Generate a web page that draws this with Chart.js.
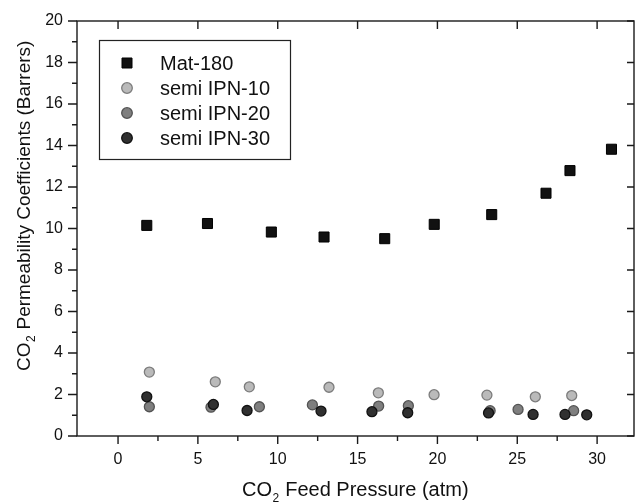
<!DOCTYPE html>
<html><head><meta charset="utf-8">
<script src="https://cdn.jsdelivr.net/npm/chart.js@4.4.0/dist/chart.umd.min.js"></script>
<style>html,body{margin:0;padding:0;background:#fff;}canvas{display:block;}</style>
</head><body>
<canvas id="c" width="635" height="502"></canvas>
<script>
// ---- data ----
const seriesNames = ['Mat-180', 'semi IPN-10', 'semi IPN-20', 'semi IPN-30'];
const mat180X = [1.8, 5.6, 9.6, 12.9, 16.7, 19.8, 23.4, 26.8, 28.3, 30.9];
const mat180Y = [10.15, 10.24, 9.83, 9.59, 9.51, 10.2, 10.67, 11.70, 12.79, 13.82];
const ipn10X = [1.96, 6.09, 8.22, 13.21, 16.3, 19.79, 23.1, 26.13, 28.41];
const ipn10Y = [3.08, 2.61, 2.37, 2.35, 2.08, 1.99, 1.97, 1.89, 1.95];
const ipn20X = [1.96, 5.82, 8.85, 12.17, 16.32, 18.18, 23.3, 25.05, 28.53];
const ipn20Y = [1.41, 1.39, 1.41, 1.50, 1.44, 1.46, 1.22, 1.28, 1.22];
const ipn30X = [1.80, 5.97, 8.08, 12.71, 15.9, 18.14, 23.2, 25.99, 27.99, 29.35];
const ipn30Y = [1.89, 1.52, 1.23, 1.20, 1.17, 1.12, 1.11, 1.04, 1.04, 1.02];
const xTickValues = [0, 5, 10, 15, 20, 25, 30];
const xMinorValues = [2.5, 7.5, 12.5, 17.5, 22.5, 27.5];
const yTickValues = [0, 2, 4, 6, 8, 10, 12, 14, 16, 18, 20];
const yMinorValues = [1, 3, 5, 7, 9, 11, 13, 15, 17, 19];
const xTitleParts = ['CO', '2', ' Feed Pressure (atm)'];
const yTitleParts = ['CO', '2', ' Permeability Coefficients (Barrers)'];

const FONT = '"Liberation Sans", Arial, Helvetica, sans-serif';
function pts(xs, ys) { return xs.map((x, i) => ({ x: x, y: ys[i] })); }

const styles = [
  { pointStyle: 'rect', pointRadius: 7.1, backgroundColor: '#111111', borderColor: '#000000', borderWidth: 1, order: 0 },
  { pointStyle: 'circle', pointRadius: 5, backgroundColor: '#bababa', borderColor: '#7c7c7c', borderWidth: 1.3, order: 3 },
  { pointStyle: 'circle', pointRadius: 5, backgroundColor: '#7f7f7f', borderColor: '#535353', borderWidth: 1.3, order: 2 },
  { pointStyle: 'circle', pointRadius: 5, backgroundColor: '#303030', borderColor: '#111111', borderWidth: 1.3, order: 1 }
];
const seriesData = [pts(mat180X, mat180Y), pts(ipn10X, ipn10Y), pts(ipn20X, ipn20Y), pts(ipn30X, ipn30Y)];
const datasets = seriesNames.map((n, i) => Object.assign({ label: n, data: seriesData[i], showLine: false, pointHoverRadius: styles[i].pointRadius }, styles[i]));

function drawSubText(ctx, parts, x, y, size) {
  ctx.textBaseline = 'alphabetic';
  ctx.textAlign = 'left';
  ctx.font = size + 'px ' + FONT;
  ctx.fillText(parts[0], x, y);
  x += ctx.measureText(parts[0]).width;
  const s = Math.round(size * 0.62);
  ctx.font = s + 'px ' + FONT;
  ctx.fillText(parts[1], x + 0.5, y + size * 0.28);
  x += ctx.measureText(parts[1]).width + 1;
  ctx.font = size + 'px ' + FONT;
  ctx.fillText(parts[2], x, y);
}

const decor = {
  id: 'decor',
  afterDraw(chart) {
    const ctx = chart.ctx, a = chart.chartArea, xs = chart.scales.x, ys = chart.scales.y;
    ctx.save();
    ctx.strokeStyle = '#1a1a1a';
    ctx.lineWidth = 1.4;
    ctx.strokeRect(a.left, a.top, a.right - a.left, a.bottom - a.top);
    ctx.beginPath();
    xTickValues.forEach(v => {
      const p = xs.getPixelForValue(v);
      ctx.moveTo(p, a.bottom); ctx.lineTo(p, a.bottom + 8);
      ctx.moveTo(p, a.top); ctx.lineTo(p, a.top + 8);
    });
    xMinorValues.forEach(v => {
      const p = xs.getPixelForValue(v);
      ctx.moveTo(p, a.bottom); ctx.lineTo(p, a.bottom + 5);
    });
    yTickValues.forEach(v => {
      const p = ys.getPixelForValue(v);
      ctx.moveTo(a.left, p); ctx.lineTo(a.left - 9, p);
      ctx.moveTo(a.right, p); ctx.lineTo(a.right - 7, p);
    });
    yMinorValues.forEach(v => {
      const p = ys.getPixelForValue(v);
      ctx.moveTo(a.left, p); ctx.lineTo(a.left - 5, p);
    });
    ctx.stroke();

    // axis titles
    ctx.fillStyle = '#111';
    drawSubText(ctx, xTitleParts, 242, 496, 20);
    ctx.save();
    ctx.translate(30, 371);
    ctx.rotate(-Math.PI / 2);
    drawSubText(ctx, yTitleParts, 0, 0, 19);
    ctx.restore();

    // legend box
    ctx.lineWidth = 1.2;
    ctx.strokeStyle = '#222';
    ctx.strokeRect(99.5, 40.5, 191, 119);
    const rows = [63, 88, 113, 138];
    seriesNames.forEach((n, i) => {
      const st = styles[i], y = rows[i], x = 127;
      ctx.fillStyle = st.backgroundColor;
      ctx.strokeStyle = st.borderColor;
      ctx.lineWidth = st.borderWidth;
      ctx.beginPath();
      if (st.pointStyle === 'rect') {
        ctx.rect(x - 5, y - 5, 10, 10);
      } else {
        ctx.arc(x, y, 5.3, 0, Math.PI * 2);
      }
      ctx.fill(); ctx.stroke();
      ctx.fillStyle = '#111';
      ctx.font = '20px ' + FONT;
      ctx.textBaseline = 'middle';
      ctx.textAlign = 'left';
      ctx.fillText(n, 160, y + 1);
    });
    ctx.restore();
  }
};

new Chart(document.getElementById('c'), {
  type: 'scatter',
  data: { datasets: datasets },
  options: {
    responsive: false,
    animation: false,
    devicePixelRatio: 1,
    events: [],
    layout: { autoPadding: false, padding: { top: 21, right: 1, left: 0, bottom: 0 } },
    plugins: { legend: { display: false }, tooltip: { enabled: false } },
    scales: {
      x: {
        type: 'linear', min: -2.57, max: 32.31,
        afterBuildTicks: s => { s.ticks = xTickValues.map(v => ({ value: v })); },
        afterFit: s => { s.height = 66; s.paddingLeft = 0; s.paddingRight = 0; },
        grid: { display: false, drawTicks: false },
        border: { display: false },
        ticks: { padding: 14, color: '#111', font: { family: FONT, size: 16 }, maxRotation: 0, autoSkip: false }
      },
      y: {
        type: 'linear', min: 0, max: 20,
        afterBuildTicks: s => { s.ticks = yTickValues.map(v => ({ value: v })); },
        afterFit: s => { s.width = 77; s.paddingTop = 0; s.paddingBottom = 0; },
        grid: { display: false, drawTicks: false },
        border: { display: false },
        ticks: { padding: 14, color: '#111', font: { family: FONT, size: 16 }, autoSkip: false }
      }
    }
  },
  plugins: [decor]
});
</script>
</body></html>
